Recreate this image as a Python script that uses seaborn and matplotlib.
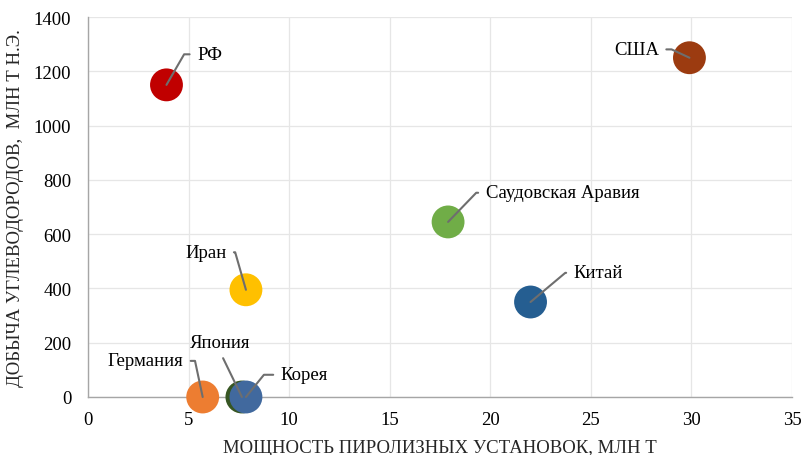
import matplotlib
matplotlib.use("Agg")
import matplotlib.pyplot as plt
import seaborn as sns
import pandas as pd

countries = ["РФ", "США", "Саудовская Аравия", "Иран", "Китай", "Германия", "Япония", "Корея"]
capacity = [3.9, 29.9, 17.9, 7.85, 22, 5.7, 7.65, 7.85]
production = [1150, 1250, 645, 395, 350, 0, 0, 0]
colors = ["#C00000", "#9C3B10", "#70AD47", "#FFC000", "#255E91", "#ED7D31", "#375623", "#41699E"]
# label offsets (points) relative to each point, alignment and leader angle
offsets = [(22, 22), (-22, 6), (27, 21), (-14, 27), (31, 21), (-14, 26), (-16, 33), (25, 16)]
ha = ["left", "right", "left", "right", "left", "right", "center", "left"]
angles = [60, -25, 46, 106, 40, 102, None, 51]

df = pd.DataFrame({"country": countries, "x": capacity, "y": production})

sns.set_theme(style="white")
plt.rcParams["font.family"] = ["Liberation Serif", "DejaVu Serif"]

fig = plt.figure(figsize=(8.04, 4.56), dpi=100)
ax = fig.add_axes([0.1095, 0.1272, 0.8756, 0.8333])

sns.scatterplot(data=df, x="x", y="y", hue="country", palette=dict(zip(countries, colors)),
                s=560, edgecolor="none", legend=False, ax=ax, zorder=3, clip_on=False)

for c, x, y, (dx, dy), h, ang in zip(countries, capacity, production, offsets, ha, angles):
    if ang is None:
        cs = "arc3"
        rp = (0.5, 0)
        va = "bottom"
    else:
        cs = f"angle,angleA=0,angleB={ang},rad=0"
        rp = (0, 0.5) if h == "left" else (1, 0.5)
        va = "center"
    ax.annotate(c, xy=(x, y), xytext=(dx, dy), textcoords="offset points",
                ha=h, va=va, fontsize=13.5, color="black",
                arrowprops=dict(arrowstyle="-", color="#6E6E6E", lw=1.5,
                                shrinkA=3, shrinkB=0, relpos=rp,
                                connectionstyle=cs),
                zorder=4)

ax.set_xlim(0, 35)
ax.set_ylim(0, 1400)
ax.set_xticks(range(0, 36, 5))
ax.set_yticks(range(0, 1401, 200))
ax.grid(True, color="#E6E6E6", lw=0.9)
ax.set_axisbelow(True)
for s in ["top", "right"]:
    ax.spines[s].set_visible(False)
for s in ["left", "bottom"]:
    ax.spines[s].set_color("#A6A6A6")
    ax.spines[s].set_linewidth(1)
ax.tick_params(axis="both", labelsize=13.5, colors="black", length=0)
ax.tick_params(axis="y", pad=12)
ax.tick_params(axis="x", pad=10)
ax.set_xlabel("МОЩНОСТЬ ПИРОЛИЗНЫХ УСТАНОВОК, МЛН Т", fontsize=13.5, labelpad=8)
ax.set_ylabel("ДОБЫЧА УГЛЕВОДОРОДОВ,  МЛН Т Н.Э.", fontsize=13.5, labelpad=7)

fig.savefig("out.png", dpi=100)
